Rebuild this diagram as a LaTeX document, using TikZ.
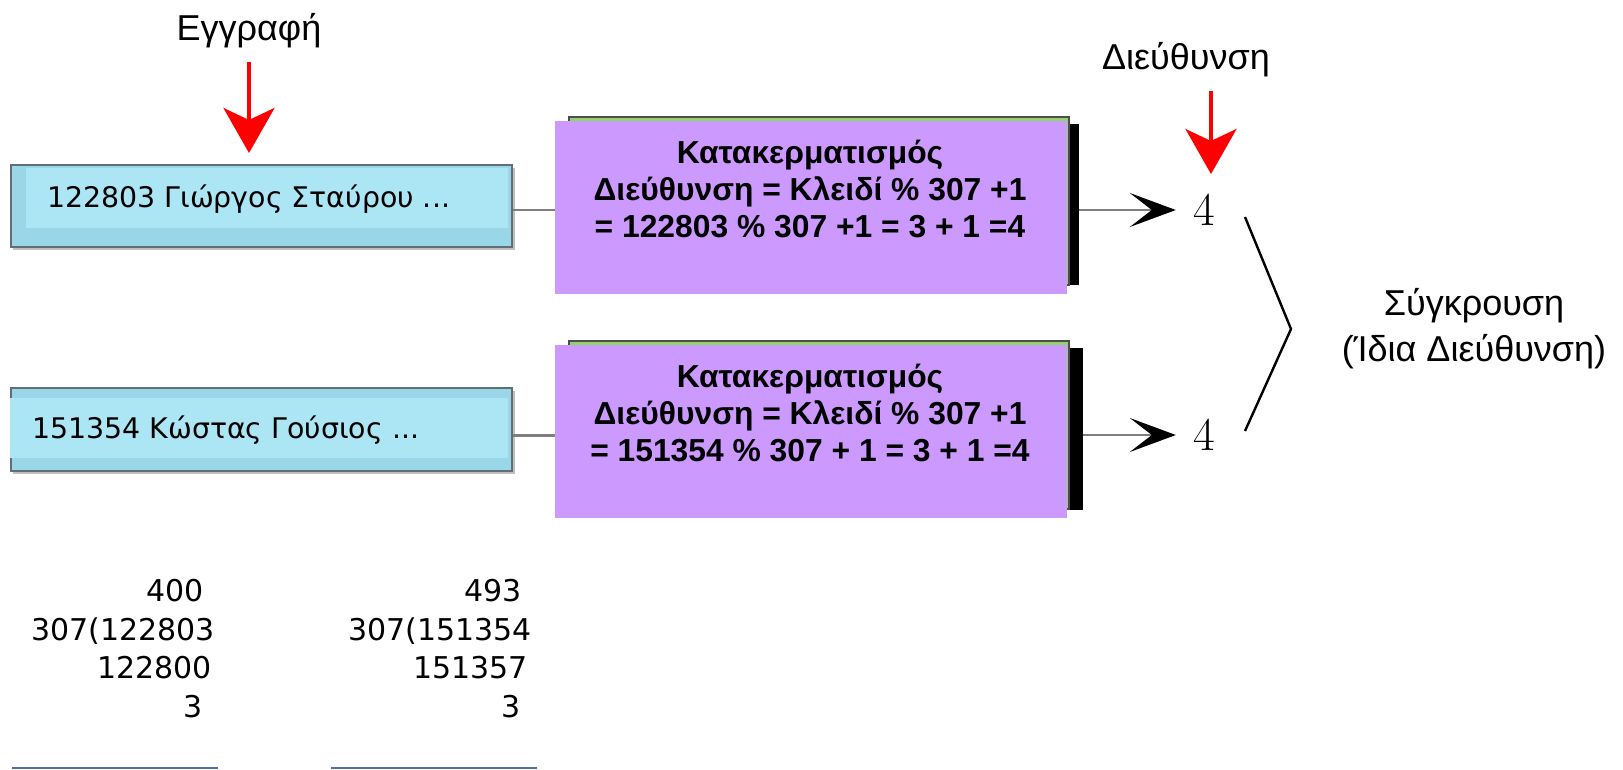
\documentclass[tikz,border=0pt]{standalone}
\usepackage{fontspec}
\setmainfont{Liberation Sans}
\newfontfamily\comicf{DejaVu Sans}
\newfontfamily\lmf{Latin Modern Roman}
\usetikzlibrary{arrows.meta}
\definecolor{cyanL}{HTML}{ACE5F4}
\definecolor{cyanD}{HTML}{99D6E8}
\definecolor{boxEdge}{HTML}{5F6F75}
\definecolor{purp}{HTML}{CC99FF}
\definecolor{grn}{HTML}{92D36E}
\definecolor{lineBlue}{HTML}{50709A}
\definecolor{conGray}{HTML}{7F7F7F}
\begin{document}
\begin{tikzpicture}[x=0.5pt,y=-0.5pt,
  cyanbox/.style={draw=boxEdge, line width=0.8pt, fill=cyanD, minimum width=250.5pt, minimum height=41pt, inner sep=0pt},
  purpbox/.style={fill=purp, minimum width=256pt, minimum height=86.5pt, inner sep=0pt},
  greenbox/.style={fill=grn, draw=black!70, line width=0.6pt, minimum width=250pt, minimum height=84pt, inner sep=0pt},
  shadowbox/.style={fill=black, minimum width=250pt, minimum height=80.5pt, inner sep=0pt},
  ptext/.style={font=\fontsize{15.9}{18.5}\selectfont\bfseries, align=center, inner sep=0pt},
  ctext/.style={font=\comicf\fontsize{14.2}{17}\selectfont, inner sep=0pt},
  ntext/.style={font=\comicf\fontsize{15}{17}\selectfont, inner sep=0pt, anchor=base east},
  label/.style={font=\fontsize{18}{23}\selectfont, inner sep=0pt},
  numlab/.style={font=\lmf\fontsize{23.5}{24}\selectfont, inner ysep=4pt, inner xsep=8.5pt},
  redarr/.style={draw=red, line width=2pt, -{Stealth[length=22.5pt, width=25.5pt, inset=6pt]}},
  conn/.style={draw=conGray, line width=1.3pt},
  blackarr/.style={draw=conGray, line width=1.3pt, -{Stealth[length=23pt, width=17pt, inset=11pt, black]}},
  bline/.style={draw=lineBlue, line width=1pt}
]
\useasboundingbox (0,0) rectangle (1623,770);

% ---- numbers "4" and connectors (drawn first, behind boxes)
\node[numlab] (n1) at (1204,210) {4};
\node[numlab] (n2) at (1204,435) {4};

% purple/green/shadow stacks
\node[shadowbox] (s1) at (829,204.5) {};
\node[greenbox] (g1) at (819,201) {};
\node[shadowbox] (s2) at (832.5,429) {};
\node[greenbox] (g2) at (819,425) {};

\draw[blackarr] (s1.east |- n1) -- (n1.west);
\draw[blackarr] (s2.east |- n2) -- (n2.west);

\node[purpbox] (p1) at (811,207.5) {};
\node[purpbox] (p2) at (811,431.5) {};

% cyan boxes
\fill[black!25] (13,168) rectangle (515,250);
\node[cyanbox] (c1) at (261.5,206) {};
\fill[cyanL] ([xshift=8pt,yshift=-2pt]c1.north west) rectangle ([xshift=-2.5pt,yshift=10pt]c1.south east);
\fill[black!25] (13,391) rectangle (515,474);
\node[cyanbox, minimum height=41.5pt] (c2) at (261.5,429.5) {};
\fill[cyanL] ([xshift=0pt,yshift=-5.5pt]c2.north west) rectangle ([xshift=-2.5pt,yshift=7pt]c2.south east);

\draw[conn] ([yshift=-2pt]c1.east) -- ([yshift=-2pt]c1.east -| p1.west);
\draw[conn] ([yshift=-3pt]c2.east) -- ([yshift=-3pt]c2.east -| p2.west);

\node[ctext, anchor=base west] (t1) at (47,208) {122803 Γιώργος Σταύρου ...};
\node[ctext, anchor=base west] (t2) at (32,438) {151354 Κώστας Γούσιος ...};

\node[ptext] (pt1) at (810,189) {Κατακερματισμός\\Διεύθυνση = Κλειδί \% 307 +1\\= 122803 \% 307 +1 = 3 + 1 =4};
\node[ptext] (pt2) at (810,413) {Κατακερματισμός\\Διεύθυνση = Κλειδί \% 307 +1\\= 151354 \% 307 + 1 = 3 + 1 =4};

% top labels and red arrows
\node[label] (eg) at (249,31) {Εγγραφή};
\coordinate (ra1s) at (249,62);
\coordinate (ra1e) at (249,153);
\draw[redarr] (ra1s) -- (ra1e);

\node[label] (di) at (1186,60) {Διεύθυνση};
\coordinate (ra2s) at (1211,91);
\coordinate (ra2e) at (1211,174);
\draw[redarr] (ra2s) -- (ra2e);

% collision bracket
\coordinate (b1) at (1245,217);
\coordinate (b2) at (1291,329);
\coordinate (b3) at (1245,431);
\draw[line width=1.2pt] (b1) -- (b2) -- (b3);
\node[label, align=center] (coll) at (1474,329) {Σύγκρουση\\(Ίδια Διεύθυνση)};

% bottom divisions
\node[ntext] (l1) at (204,601) {400};
\node[ntext] (l2) at (215,640) {307(122803};
\node[ntext] (l3) at (212,678) {122800};
\node[ntext] (l4) at (203,717) {3};
\node[ntext] (r1) at (522,601) {493};
\node[ntext] (r2) at (532,640) {307(151354};
\node[ntext] (r3) at (528,678) {151357};
\node[ntext] (r4) at (521,717) {3};

\coordinate (bl1a) at (12,768);
\coordinate (bl1b) at (218,768);
\coordinate (bl2a) at (331,768);
\coordinate (bl2b) at (537,768);
\draw[bline] (bl1a) -- (bl1b);
\draw[bline] (bl2a) -- (bl2b);
\end{tikzpicture}
\end{document}
